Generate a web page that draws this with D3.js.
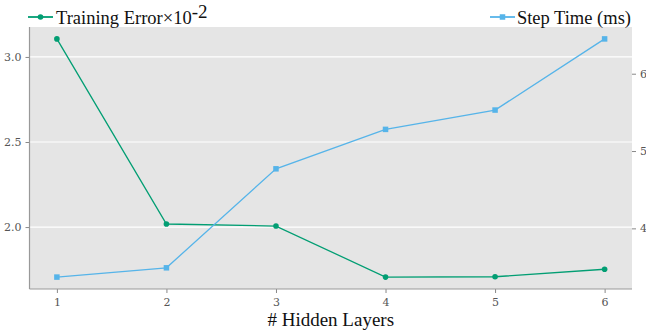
<!DOCTYPE html>
<html>
<head>
<meta charset="utf-8">
<script src="https://cdn.jsdelivr.net/npm/d3@7"></script>
<style>
  html, body { margin: 0; padding: 0; background: #fff; }
  svg { display: block; }
</style>
</head>
<body>
<svg id="chart" width="646" height="334"></svg>
<script>
// Number of hidden layers vs. training error and step time
const layers = [1, 2, 3, 4, 5, 6];
const trainingError = [3.106, 2.018, 2.006, 1.706, 1.708, 1.752]; // ×10^-2
const stepTime = [3.37, 3.49, 4.77, 5.28, 5.53, 6.45];          // ms
const leftTicks = [2.0, 2.5, 3.0];
const rightTicks = [4, 5, 6];

const W = 646, H = 334;
const plot = { left: 29.5, right: 632, top: 27, bottom: 289 };

const svg = d3.select("#chart");

// padded extent (5% each side)
function padded(vals) {
  const [lo, hi] = d3.extent(vals);
  const m = (hi - lo) * 0.05;
  return [lo - m, hi + m];
}

const x = d3.scaleLinear().domain(padded(layers)).range([plot.left, plot.right]);
const yL = d3.scaleLinear().domain(padded(trainingError)).range([plot.bottom, plot.top]);
const yR = d3.scaleLinear().domain(padded(stepTime)).range([plot.bottom, plot.top]);

const green = "#029e73";
const blue = "#56b4e9";
const tickFont = "'DejaVu Serif', 'Liberation Serif', serif";

// panel background
svg.append("rect")
  .attr("x", plot.left).attr("y", plot.top)
  .attr("width", plot.right - plot.left).attr("height", plot.bottom - plot.top)
  .attr("fill", "#e5e5e5");

// horizontal grid from the left axis
svg.append("g").selectAll("line").data(leftTicks).join("line")
  .attr("x1", plot.left).attr("x2", plot.right)
  .attr("y1", d => yL(d)).attr("y2", d => yL(d))
  .attr("stroke", "#fff").attr("stroke-width", 1.2);

// axes
function styleAxis(g) {
  g.attr("font-family", null).attr("font-size", null);
  g.select(".domain").remove();
  g.selectAll(".tick line").attr("stroke", "#888").attr("stroke-width", 1);
  g.selectAll(".tick text")
    .attr("fill", "#555")
    .style("font-family", tickFont)
    .style("font-size", "11px");
}

svg.append("g")
  .attr("transform", `translate(0,${plot.bottom})`)
  .call(d3.axisBottom(x).tickValues(layers).tickFormat(d3.format("d")).tickSize(4).tickPadding(5))
  .call(styleAxis);

svg.append("g")
  .attr("transform", `translate(${plot.left},0)`)
  .call(d3.axisLeft(yL).tickValues(leftTicks).tickFormat(d3.format(".1f")).tickSize(4).tickPadding(4))
  .call(styleAxis);

svg.append("g")
  .attr("transform", `translate(${plot.right},0)`)
  .call(d3.axisRight(yR).tickValues(rightTicks).tickFormat(d3.format("d")).tickSize(4).tickPadding(4))
  .call(styleAxis);

// spines (left and bottom)
svg.append("line")
  .attr("x1", plot.left).attr("x2", plot.left)
  .attr("y1", plot.top).attr("y2", plot.bottom)
  .attr("stroke", "#999").attr("stroke-width", 1.2);
svg.append("line")
  .attr("x1", plot.left).attr("x2", plot.right)
  .attr("y1", plot.bottom).attr("y2", plot.bottom)
  .attr("stroke", "#999").attr("stroke-width", 1.2);

// training error series
const lineL = d3.line().x((d, i) => x(layers[i])).y(d => yL(d));
svg.append("path").datum(trainingError)
  .attr("d", lineL).attr("fill", "none")
  .attr("stroke", green).attr("stroke-width", 1.3);
svg.append("g").selectAll("circle").data(trainingError).join("circle")
  .attr("cx", (d, i) => x(layers[i])).attr("cy", d => yL(d))
  .attr("r", 2.8).attr("fill", green);

// step time series
const lineR = d3.line().x((d, i) => x(layers[i])).y(d => yR(d));
svg.append("path").datum(stepTime)
  .attr("d", lineR).attr("fill", "none")
  .attr("stroke", blue).attr("stroke-width", 1.3);
const sq = 5.5;
svg.append("g").selectAll("rect").data(stepTime).join("rect")
  .attr("x", (d, i) => x(layers[i]) - sq / 2).attr("y", d => yR(d) - sq / 2)
  .attr("width", sq).attr("height", sq).attr("fill", blue);

// x-axis title
svg.append("text")
  .attr("x", (plot.left + plot.right) / 2).attr("y", 326)
  .attr("text-anchor", "middle")
  .style("font-family", "'Liberation Serif', 'Times New Roman', serif")
  .style("font-size", "19px").attr("fill", "#111")
  .text("# Hidden Layers");

// legends
const legFont = "'Liberation Serif', 'Times New Roman', serif";
const legY = 17;

const lg1 = svg.append("g");
lg1.append("line").attr("x1", 28).attr("x2", 53).attr("y1", legY).attr("y2", legY)
  .attr("stroke", green).attr("stroke-width", 1.8);
lg1.append("circle").attr("cx", 40.5).attr("cy", legY).attr("r", 2.8).attr("fill", green);
const t1 = lg1.append("text").attr("x", 56).attr("y", 24)
  .style("font-family", legFont).style("font-size", "18.5px").attr("fill", "#111");
t1.append("tspan").text("Training Error×10");
t1.append("tspan").attr("dy", -6).style("font-size", "19px").text("-2");

const lg2 = svg.append("g");
lg2.append("line").attr("x1", 490).attr("x2", 515).attr("y1", legY).attr("y2", legY)
  .attr("stroke", blue).attr("stroke-width", 1.8);
lg2.append("rect").attr("x", 502.5 - 2.75).attr("y", legY - 2.75).attr("width", 5.5).attr("height", 5.5).attr("fill", blue);
lg2.append("text").attr("x", 631).attr("y", 24).attr("text-anchor", "end")
  .style("font-family", legFont).style("font-size", "18.5px").attr("fill", "#111")
  .text("Step Time (ms)");
</script>
</body>
</html>
